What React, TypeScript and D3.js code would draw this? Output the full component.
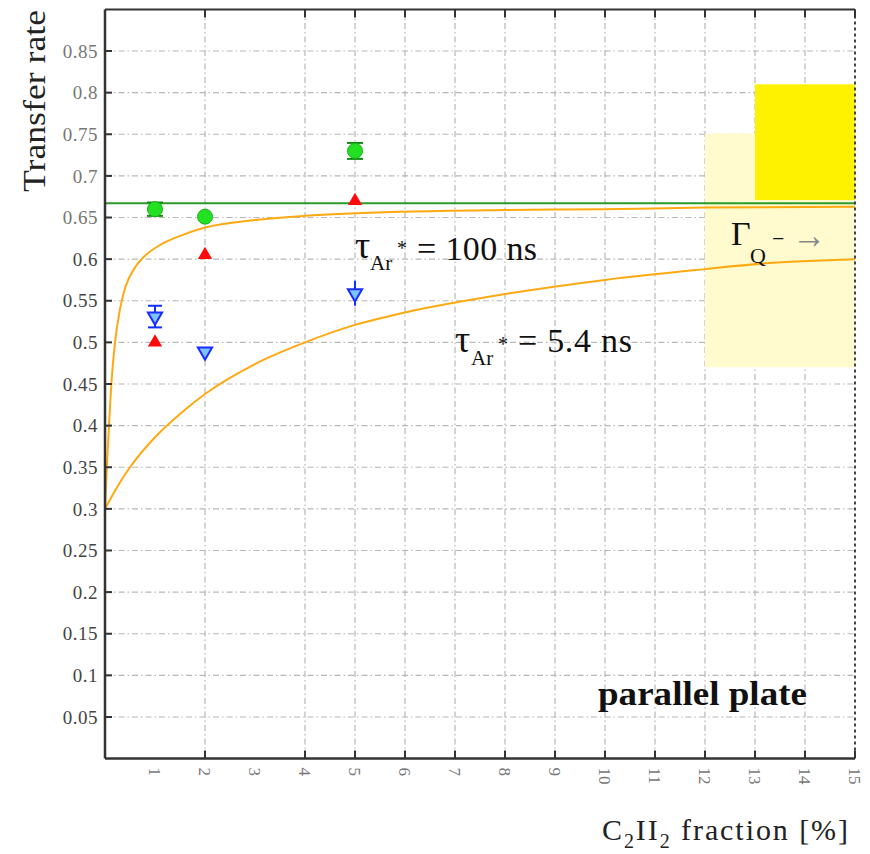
import React from 'react';
import * as d3 from 'd3';

// ---- data ----
const xTickLabels = [1, 2, 3, 4, 5, 6, 7, 8, 9, 10, 11, 12, 13, 14, 15];
const xGridTicks = [2, 4, 5, 6, 7, 8, 9, 10, 11, 12, 13, 14, 15];
const yTickValues = [0.05, 0.1, 0.15, 0.2, 0.25, 0.3, 0.35, 0.4, 0.45, 0.5, 0.55, 0.6, 0.65, 0.7, 0.75, 0.8, 0.85];

// tau = 100 ns curve
const upperX = [0, 0.033, 0.067, 0.1, 0.133, 0.2, 0.3, 0.4, 0.6, 0.8, 1.13, 1.5, 2, 3, 4, 6, 8, 10, 12, 15];
const upperY = [0.3, 0.345, 0.385, 0.423, 0.455, 0.5, 0.54, 0.565, 0.59, 0.604, 0.618, 0.628, 0.638, 0.647, 0.652, 0.657, 0.659, 0.66, 0.662, 0.663];
// tau = 5.4 ns curve
const lowerX = [0, 0.25, 0.5, 1, 1.5, 2, 3, 4, 5, 6, 8, 10, 12, 13.2, 15];
const lowerY = [0.3, 0.327, 0.35, 0.386, 0.414, 0.438, 0.474, 0.5, 0.521, 0.536, 0.558, 0.575, 0.588, 0.595, 0.6];

const limitLevel = 0.667;

const greenX = [1, 2, 5];
const greenY = [0.66, 0.651, 0.73];
const greenErr = [0.008, 0, 0.0096];

const redX = [1, 2, 5];
const redY = [0.5, 0.605, 0.67];

const blueX = [1, 2, 5];
const blueY = [0.531, 0.489, 0.559];
const blueErr = [0.013, 0, 0.015];
const blueCapped = [true, false, false];

const bandLightX = [12, 15];
const bandLightY = [0.47, 0.751];
const bandBrightX = [13, 15];
const bandBrightY = [0.671, 0.81];

export default function App() {
  const W = 870, H = 854;
  const x = d3.scaleLinear().domain([0, 15]).range([105, 855]);
  const y = d3.scaleLinear().domain([0, 0.9]).range([758.6, 9.4]);
  const line = d3.line<[number, number]>().x(d => x(d[0])).y(d => y(d[1])).curve(d3.curveMonotoneX);
  const upper = line(upperX.map((v, i) => [v, upperY[i]] as [number, number])) || '';
  const lower = line(lowerX.map((v, i) => [v, lowerY[i]] as [number, number])) || '';
  const tri = d3.symbol(d3.symbolTriangle, 88)() || '';
  const serif = 'Liberation Serif, Times New Roman, serif';
  const gridDash = '6,3,1.5,3';
  const x0 = x(0), x1 = x(15), yb = y(0), yt = y(0.9);

  return (
    <svg width={W} height={H} style={{ position: 'absolute', left: 0, top: 0, background: '#fff', fontFamily: serif }}>
      <rect x={0} y={0} width={W} height={H} fill="#fff" />
      {/* grid */}
      {yTickValues.map(v => (
        <line key={'gy' + v} x1={x0} x2={x1} y1={y(v)} y2={y(v)} stroke="#b8b8b8" strokeWidth={1.2} strokeDasharray={gridDash} />
      ))}
      {xGridTicks.filter(v => v < 15).map(v => (
        <line key={'gx' + v} x1={x(v)} x2={x(v)} y1={yt} y2={yb} stroke="#b8b8b8" strokeWidth={1.2} strokeDasharray={gridDash} />
      ))}
      {/* bands */}
      <rect x={x(bandLightX[0])} width={x(bandLightX[1]) - x(bandLightX[0])} y={y(bandLightY[1])} height={y(bandLightY[0]) - y(bandLightY[1])} fill="#fffbcf" />
      <rect x={x(bandBrightX[0])} width={x(bandBrightX[1]) - x(bandBrightX[0])} y={y(bandBrightY[1])} height={y(bandBrightY[0]) - y(bandBrightY[1])} fill="#fff200" />
      {/* curves */}
      <path d={upper} fill="none" stroke="#ffa912" strokeWidth={2} />
      <path d={lower} fill="none" stroke="#ffa912" strokeWidth={2} />
      <line x1={x0} x2={x1} y1={y(limitLevel)} y2={y(limitLevel)} stroke="#2a9a2a" strokeWidth={2} />
      {/* green points */}
      {greenX.map((v, i) => (
        <g key={'g' + i}>
          {greenErr[i] > 0 && (
            <g stroke="#128a12" strokeWidth={2}>
              <line x1={x(v)} x2={x(v)} y1={y(greenY[i] + greenErr[i])} y2={y(greenY[i] - greenErr[i])} />
              <line x1={x(v) - 8} x2={x(v) + 8} y1={y(greenY[i] + greenErr[i])} y2={y(greenY[i] + greenErr[i])} />
              <line x1={x(v) - 8} x2={x(v) + 8} y1={y(greenY[i] - greenErr[i])} y2={y(greenY[i] - greenErr[i])} />
            </g>
          )}
          <circle cx={x(v)} cy={y(greenY[i])} r={7.5} fill="#22e022" stroke="#18b018" strokeWidth={1} />
        </g>
      ))}
      {/* red triangles */}
      {redX.map((v, i) => (
        <path key={'r' + i} d={tri} transform={`translate(${x(v)},${y(redY[i])})`} fill="#ff0a0a" />
      ))}
      {/* blue triangles */}
      {blueX.map((v, i) => (
        <g key={'b' + i}>
          {blueErr[i] > 0 && (
            <g stroke="#1030ff" strokeWidth={2}>
              <line x1={x(v)} x2={x(v)} y1={y(blueY[i] + blueErr[i])} y2={y(blueY[i] - blueErr[i])} />
              {blueCapped[i] && <line x1={x(v) - 7} x2={x(v) + 7} y1={y(blueY[i] + blueErr[i])} y2={y(blueY[i] + blueErr[i])} />}
              {blueCapped[i] && <line x1={x(v) - 7} x2={x(v) + 7} y1={y(blueY[i] - blueErr[i])} y2={y(blueY[i] - blueErr[i])} />}
            </g>
          )}
          <path d={tri} transform={`translate(${x(v)},${y(blueY[i])}) rotate(180)`} fill="#7cc4ff" stroke="#1a2cff" strokeWidth={2} />
        </g>
      ))}
      {/* annotations */}
      <g fill="#111" fontFamily={serif}>
        <text x={355} y={258} fontSize={38}>τ</text>
        <text x={370} y={270} fontSize={21}>Ar</text>
        <text x={397} y={255} fontSize={20}>*</text>
        <text x={417} y={260} fontSize={34} textLength={120}>= 100 ns</text>

        <text x={455} y={352} fontSize={38}>τ</text>
        <text x={471} y={365} fontSize={21}>Ar</text>
        <text x={498} y={351} fontSize={20}>*</text>
        <text x={518} y={352} fontSize={34} textLength={114}>= 5.4 ns</text>

        <text x={731} y={245} fontSize={34}>Γ</text>
        <text x={750} y={263} fontSize={22}>Q</text>
        <text x={772} y={246} fontSize={22}>−</text>
        <text x={792} y={248} fontSize={38} fill="#888" textLength={34} lengthAdjust="spacingAndGlyphs">→</text>

        <text x={598} y={705} fontSize={34} fontWeight="bold" textLength={209} lengthAdjust="spacingAndGlyphs">parallel plate</text>
      </g>
      {/* axes */}
      <line x1={x0} x2={x0} y1={yt} y2={yb} stroke="#333" strokeWidth={2.5} />
      <line x1={x0} x2={x1} y1={yb} y2={yb} stroke="#333" strokeWidth={2.5} />
      <line x1={x0} x2={x1} y1={yt} y2={yt} stroke="#333" strokeWidth={2} />
      <line x1={x1} x2={x1} y1={yt} y2={yb} stroke="#444" strokeWidth={2} strokeDasharray="3,3" />
      {yTickValues.map(v => (
        <g key={'ty' + v}>
          <line x1={x0} x2={x0 + 7} y1={y(v)} y2={y(v)} stroke="#333" strokeWidth={2} />
          <text x={98} y={y(v)} dy="0.35em" textAnchor="end" fontSize={19} letterSpacing={0.5} fontFamily={serif} fill={v > 0.62 ? '#777' : '#444'}>{String(+v.toFixed(2))}</text>
        </g>
      ))}
      {xGridTicks.map(v => (
        <g key={'tx' + v}>
          <line x1={x(v)} x2={x(v)} y1={yb} y2={yb - 8} stroke="#333" strokeWidth={2} />
          <line x1={x(v)} x2={x(v)} y1={yt} y2={yt + 8} stroke="#333" strokeWidth={2} />
        </g>
      ))}
      {xTickLabels.map(v => (
        <text key={'lx' + v} transform={`translate(${x(v)},${yb + 9}) rotate(90)`} dy="0.35em" fontSize={17} fontFamily={serif} fill="#777">{v}</text>
      ))}
      {/* axis titles */}
      <text transform="translate(45,101) rotate(-90)" textAnchor="middle" fontSize={32} fontFamily={serif} fill="#222" textLength={182} lengthAdjust="spacingAndGlyphs">Transfer rate</text>
      <text x={602} y={840} fontSize={30} fontFamily={serif} fill="#222" textLength={246}>
        C<tspan fontSize={20} dy={8}>2</tspan><tspan dy={-8}>II</tspan><tspan fontSize={20} dy={8}>2</tspan><tspan dy={-8}> fraction [%]</tspan>
      </text>
    </svg>
  );
}
